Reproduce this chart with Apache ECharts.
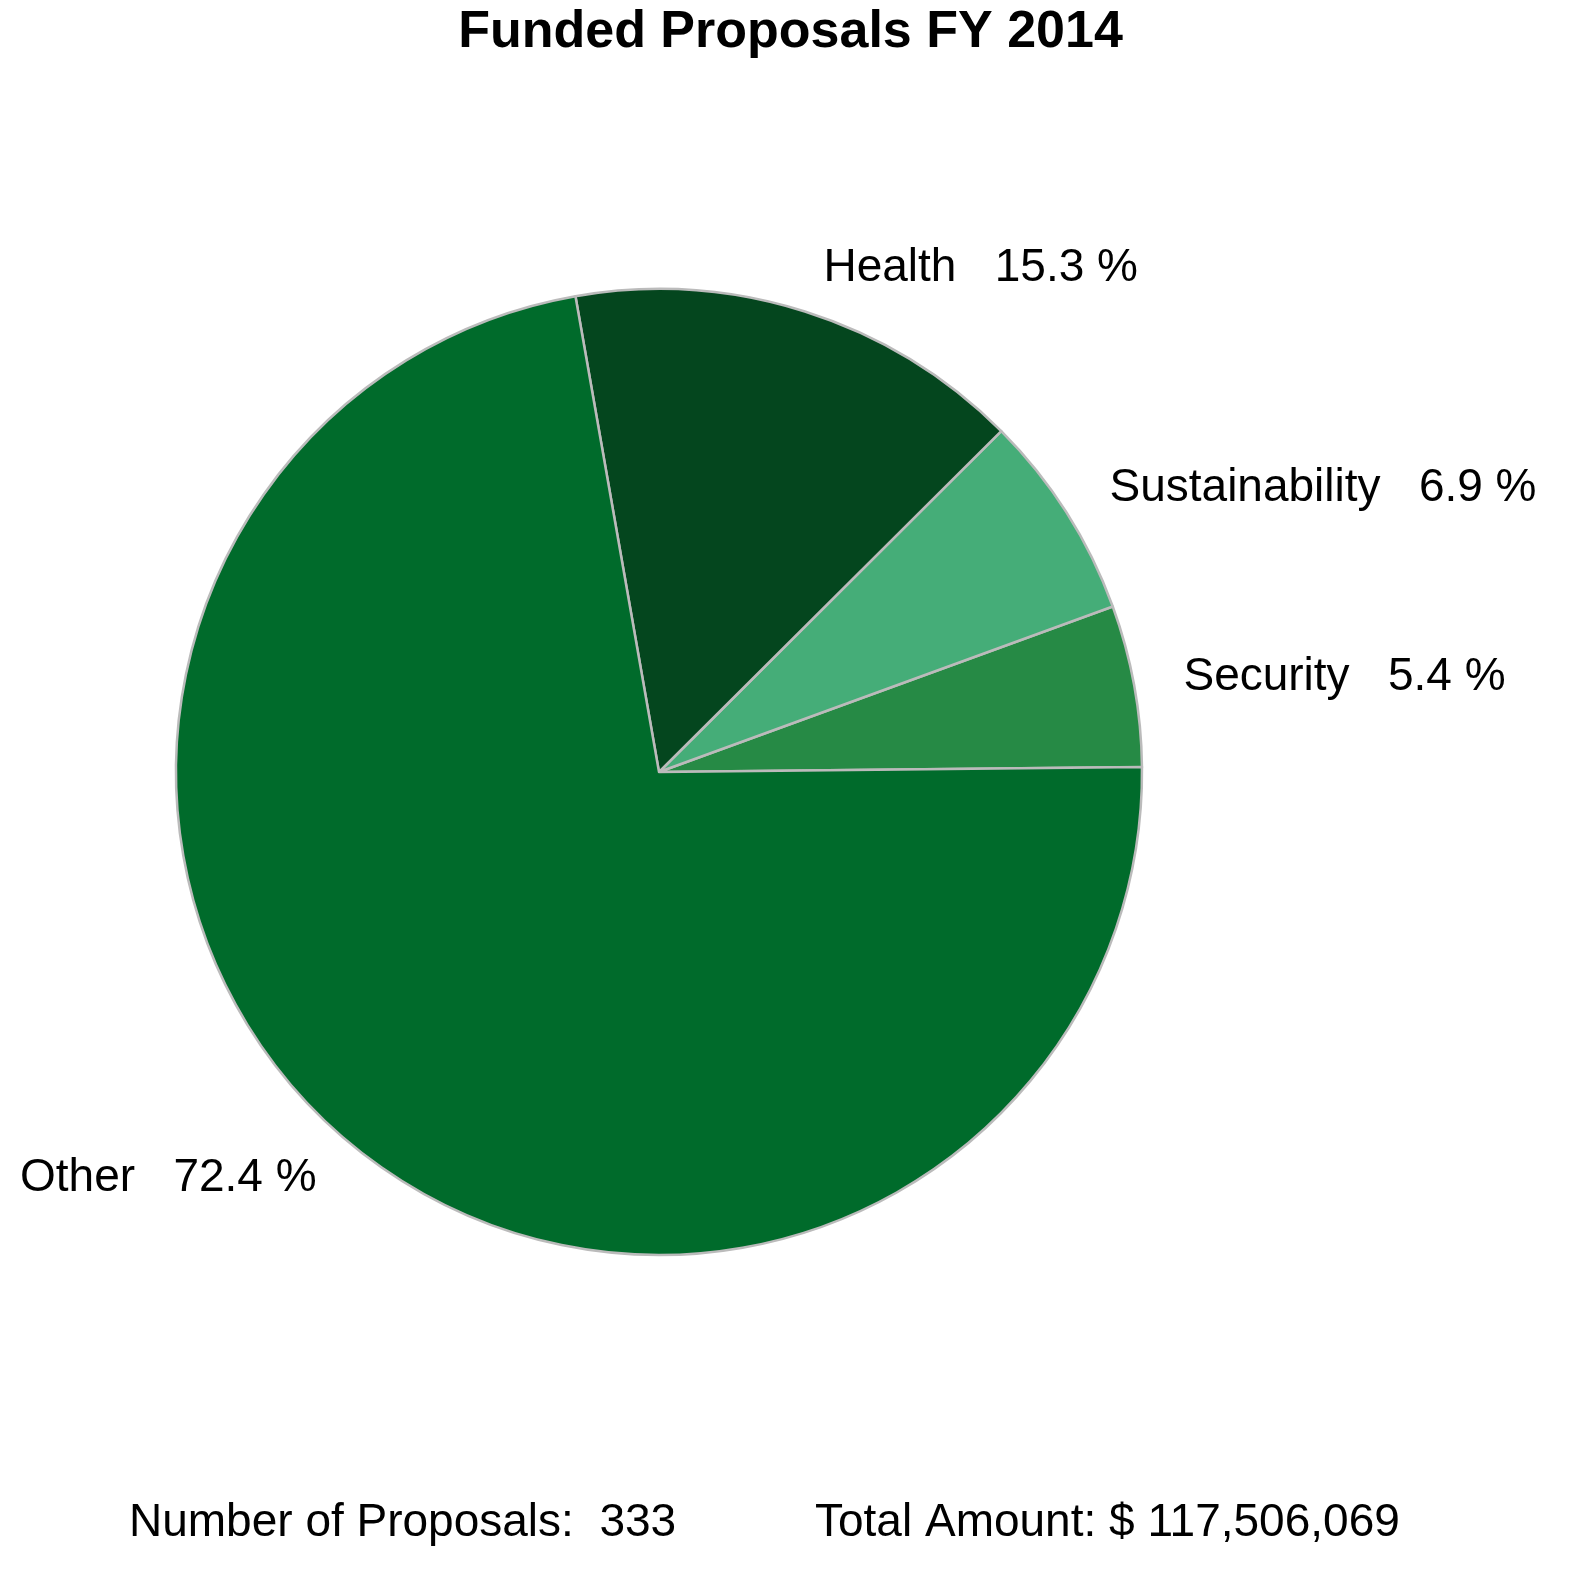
<!DOCTYPE html>
<html><head><meta charset="utf-8">
<script src="https://cdn.jsdelivr.net/npm/echarts@6/dist/echarts.min.js"></script>
<style>html,body{margin:0;padding:0;background:#fff}#c{width:1581px;height:1575px}</style>
</head><body><div id="c"></div>
<script>
const categories = ['Security','Sustainability','Health','Other'];
const percents = [5.4, 6.9, 15.3, 72.4];
const colors = ['#268a45','#45ad78','#04461e','#006b2b'];
const chart = echarts.init(document.getElementById('c'));
const font = '"Liberation Sans", Arial, sans-serif';
chart.setOption({
  backgroundColor:'#fff',
  animation:false,
  title:[
    {text:'Funded Proposals FY 2014',left:'center',top:2,textStyle:{fontFamily:font,fontSize:52,fontWeight:'bold',color:'#000'}},
    {text:'Number of Proposals:  333',left:124,top:1495,textStyle:{fontFamily:font,fontSize:46,fontWeight:'normal',color:'#000'}},
    {text:'Total Amount: $ 117,506,069',left:810,top:1495,textStyle:{fontFamily:font,fontSize:46,fontWeight:'normal',color:'#000'}}
  ],
  series:[{
    type:'pie',
    center:[659,772],
    radius:[0,483],
    startAngle:0.6,
    clockwise:false,
    avoidLabelOverlap:false,
    itemStyle:{borderColor:'#bbbbbb',borderWidth:2.5},
    label:{show:true,position:'outside',fontFamily:font,fontSize:46,color:'#000',
      formatter:p=>p.name+'   '+p.value.toFixed(1)+' %'},
    labelLine:{show:false,length:45,length2:0},
    emphasis:{disabled:true},
    data:categories.map((n,i)=>({name:n,value:percents[i],itemStyle:{color:colors[i]}}))
  }]
});
</script></body></html>
